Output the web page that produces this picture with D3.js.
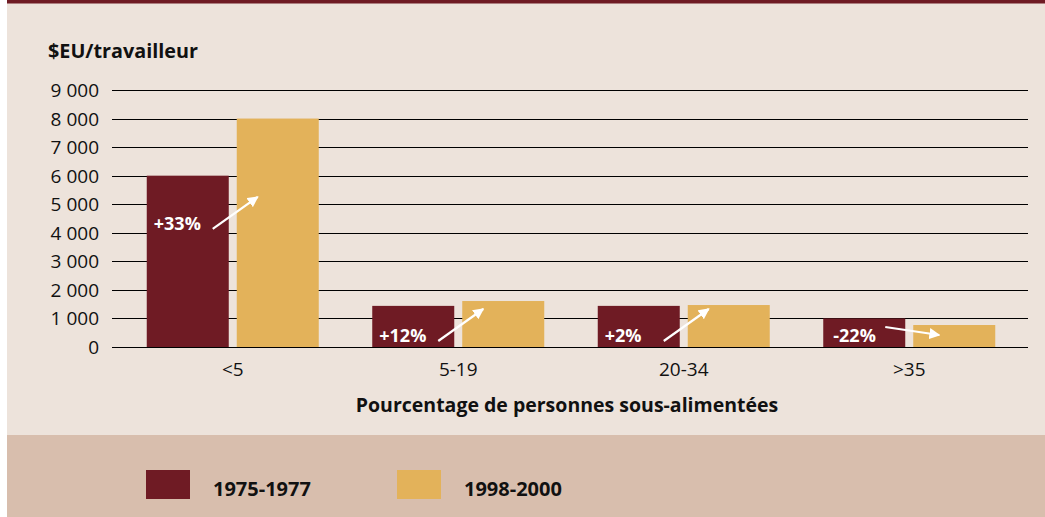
<!DOCTYPE html>
<html>
<head>
<meta charset="utf-8">
<script src="https://cdn.jsdelivr.net/npm/d3@7"></script>
<style>
  body { margin: 0; background: #fff; }
  svg { display: block; font-family: "Open Sans", "Noto Sans", sans-serif; }
</style>
</head>
<body>
<div id="chart-area"></div>
<script>
// data
var categories = ["<5", "5-19", "20-34", ">35"];
var series = ["1975-1977", "1998-2000"];
var values1975 = [6000, 1440, 1440, 1000];
var values1998 = [8000, 1610, 1470, 770];
var changes = ["+33%", "+12%", "+2%", "-22%"];
var yTicks = [0, 1000, 2000, 3000, 4000, 5000, 6000, 7000, 8000, 9000];

var colors = { "1975-1977": "#6F1B24", "1998-2000": "#E3B25A" };

var W = 1045, H = 517;

var svg = d3.select("#chart-area")
  .append("svg")
  .attr("width", W)
  .attr("height", H);

// panels
svg.append("rect").attr("x", 7).attr("y", 0).attr("width", W - 7).attr("height", 435).attr("fill", "#EDE3DB");
svg.append("rect").attr("x", 7).attr("y", 435).attr("width", W - 7).attr("height", H - 435).attr("fill", "#D8BEAD");
svg.append("rect").attr("x", 7).attr("y", 0).attr("width", W - 7).attr("height", 3.5).attr("fill", "#6F1B24");

var y = d3.scaleLinear().domain([0, 9000]).range([347, 90]);
var x = d3.scaleBand().domain(categories).range([120, 1022]);
var xs = d3.scaleBand().domain(series).range([0, 172]).paddingInner(8 / 90);

// gridlines
svg.append("g").selectAll("line")
  .data(yTicks)
  .enter().append("line")
  .attr("x1", 112).attr("x2", 1028)
  .attr("y1", function (d) { return Math.round(y(d)) + 0.5; })
  .attr("y2", function (d) { return Math.round(y(d)) + 0.5; })
  .attr("stroke", "#000").attr("stroke-width", 1.2);

// y tick labels
var fmt = function (d) { return d3.format(",")(d).replace(",", " "); };
svg.append("g").selectAll("text")
  .data(yTicks)
  .enter().append("text")
  .attr("x", 99)
  .attr("y", function (d) { return y(d) + 7; })
  .attr("text-anchor", "end")
  .attr("font-size", 19)
  .attr("fill", "#111")
  .text(fmt);

// y title
svg.append("text")
  .attr("x", 48).attr("y", 58)
  .attr("font-size", 19.8).attr("font-weight", "bold").attr("fill", "#111")
  .text("$EU/travailleur");

// bars
var rows = categories.map(function (c, i) {
  return { cat: c, vals: [
    { s: series[0], v: values1975[i] },
    { s: series[1], v: values1998[i] }
  ] };
});

var groups = svg.append("g").selectAll("g")
  .data(rows)
  .enter().append("g")
  .attr("transform", function (d) {
    return "translate(" + (x(d.cat) + (x.bandwidth() - 172) / 2) + ",0)";
  });

groups.selectAll("rect")
  .data(function (d) { return d.vals; })
  .enter().append("rect")
  .attr("x", function (d) { return xs(d.s); })
  .attr("width", xs.bandwidth())
  .attr("y", function (d) { return y(d.v); })
  .attr("height", function (d) { return y(0) - y(d.v); })
  .attr("fill", function (d) { return colors[d.s]; });

// x labels
svg.append("g").selectAll("text")
  .data(categories)
  .enter().append("text")
  .attr("x", function (d) { return x(d) + x.bandwidth() / 2; })
  .attr("y", 376)
  .attr("text-anchor", "middle")
  .attr("font-size", 19)
  .attr("fill", "#111")
  .text(function (d) { return d; });

svg.append("text")
  .attr("x", 567).attr("y", 412)
  .attr("text-anchor", "middle")
  .attr("font-size", 19.5).attr("font-weight", "bold").attr("fill", "#111")
  .text("Pourcentage de personnes sous-alimentées");

// change annotations
var defs = svg.append("defs");
defs.append("marker")
  .attr("id", "arr")
  .attr("viewBox", "0 0 10 10")
  .attr("refX", 9).attr("refY", 5)
  .attr("markerWidth", 5).attr("markerHeight", 5)
  .attr("markerUnits", "strokeWidth")
  .attr("orient", "auto")
  .append("path").attr("d", "M0,0 L10,5 L0,10 z").attr("fill", "#fff");

groups.each(function (d, i) {
  var g = d3.select(this);
  var neg = changes[i][0] === "-";
  var ty = i === 0 ? y(4100) : y(0) - 5;
  var tx = neg ? 10 : 7;
  g.append("text")
    .attr("x", tx).attr("y", ty)
    .attr("font-size", 18).attr("font-weight", "bold").attr("fill", "#fff")
    .text(changes[i]);
  var ax0, ay0, ax1, ay1;
  if (neg) {
    ax0 = 62; ay0 = ty - 15; ax1 = 116; ay1 = ty - 7;
  } else {
    ax0 = 66; ay0 = ty - 1; ax1 = 111; ay1 = ty - 33;
  }
  g.append("line")
    .attr("x1", ax0).attr("y1", ay0).attr("x2", ax1).attr("y2", ay1)
    .attr("stroke", "#fff").attr("stroke-width", 2.2)
    .attr("marker-end", "url(#arr)");
});

// legend
var legend = svg.append("g").selectAll("g")
  .data(series)
  .enter().append("g")
  .attr("transform", function (d, i) { return "translate(" + (146 + i * 251) + ",470)"; });
legend.append("rect")
  .attr("width", 44).attr("height", 29)
  .attr("fill", function (d) { return colors[d]; });
legend.append("text")
  .attr("x", 67).attr("y", 26)
  .attr("font-size", 20).attr("font-weight", "bold").attr("fill", "#111")
  .text(function (d) { return d; });
</script>
</body>
</html>
